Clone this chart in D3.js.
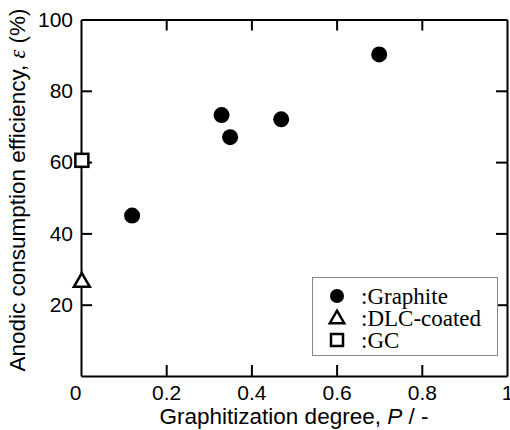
<!DOCTYPE html>
<html>
<head>
<meta charset="utf-8">
<script src="https://cdn.jsdelivr.net/npm/d3@7"></script>
<style>
  body { margin: 0; background: #fff; }
  svg { display: block; }
</style>
</head>
<body>
<svg></svg>
<script>
const width = 510;
const height = 430;
const plotL = 81, plotR = 507, plotT = 19.5, plotB = 376;

// data
const graphiteP = [0.12, 0.33, 0.35, 0.47, 0.70];
const graphiteEff = [45, 73.2, 67, 72, 90.2];
const dlcP = [0.002];
const dlcEff = [26.3];
const gcP = [0.002];
const gcEff = [60.5];
const xTicks = [0, 0.2, 0.4, 0.6, 0.8, 1];
const yTicks = [0, 20, 40, 60, 80, 100];
const legendNames = [":Graphite", ":DLC-coated", ":GC"];

const sans = "'Liberation Sans', Arial, sans-serif";
const serif = "'Liberation Serif', 'Times New Roman', serif";

let svg = d3.select("svg")
    .attr("width", width)
    .attr("height", height);

let scX = d3.scaleLinear().domain([0, 1]).range([plotL, plotR]);
let scY = d3.scaleLinear().domain([0, 100]).range([plotB, plotT]);

// axes, ticks pointing inward on all four sides
const tickLen = 11;
function fmtX(d) { return d === 0 || d === 1 ? String(d) : d3.format(".1f")(d); }
function fmtY(d) { return d === 0 ? "" : String(d); }

let axBottom = d3.axisBottom(scX).tickValues(xTicks).tickSizeInner(-tickLen).tickSizeOuter(0).tickPadding(9).tickFormat(fmtX);
let axTop = d3.axisTop(scX).tickValues(xTicks).tickSizeInner(-tickLen).tickSizeOuter(0).tickFormat("");
let axLeft = d3.axisLeft(scY).tickValues(yTicks).tickSizeInner(-tickLen).tickSizeOuter(0).tickPadding(8).tickFormat(fmtY);
let axRight = d3.axisRight(scY).tickValues(yTicks).tickSizeInner(-tickLen).tickSizeOuter(0).tickFormat("");

function styleAxis(g) {
  g.selectAll("path, line").attr("stroke", "#000").attr("stroke-width", 2);
  g.selectAll("text").attr("fill", "#000").style("font-family", sans).style("font-size", "21px");
}

let gx = svg.append("g").attr("transform", `translate(0,${plotB})`).call(axBottom).call(styleAxis);
svg.append("g").attr("transform", `translate(0,${plotT})`).call(axTop).call(styleAxis);
svg.append("g").attr("transform", `translate(${plotL},0)`).call(axLeft).call(styleAxis);
svg.append("g").attr("transform", `translate(${plotR},0)`).call(axRight).call(styleAxis);

// the "0" under the corner sits a little to the left
gx.selectAll(".tick").filter(d => d === 0).select("text").attr("dx", -6);

// drop tick lines at the corners so the frame stays clean
svg.selectAll(".tick").filter(d => d === 0 || d === 1 || d === 100).select("line").remove();

// axis titles
let xt = svg.append("text")
    .attr("x", (plotL + plotR) / 2)
    .attr("y", 424)
    .attr("text-anchor", "middle")
    .style("font-family", sans)
    .style("font-size", "22.5px");
xt.append("tspan").text("Graphitization degree,  ");
xt.append("tspan").style("font-style", "italic").text("P");
xt.append("tspan").text(" / -");

let yt = svg.append("text")
    .attr("transform", `translate(25,${190}) rotate(-90)`)
    .attr("text-anchor", "middle")
    .style("font-family", sans)
    .style("font-size", "22.5px");
yt.append("tspan").text("Anodic consumption efficiency,  ");
yt.append("tspan").style("font-family", serif).style("font-style", "italic").text("ε");
yt.append("tspan").text(" (%)");

// markers
const triangle = d3.symbol().type(d3.symbolTriangle);

function drawCircles(xs, ys) {
  svg.append("g").selectAll("circle")
    .data(xs.map((x, i) => [x, ys[i]]))
    .enter()
    .append("circle")
    .attr("cx", d => scX(d[0]))
    .attr("cy", d => scY(d[1]))
    .attr("r", 8)
    .attr("fill", "#000");
}

function drawTriangles(xs, ys) {
  svg.append("g").selectAll("path")
    .data(xs.map((x, i) => [x, ys[i]]))
    .enter()
    .append("path")
    .attr("d", triangle.size(110)())
    .attr("transform", d => `translate(${scX(d[0])},${scY(d[1])})`)
    .attr("fill", "#fff")
    .attr("stroke", "#000")
    .attr("stroke-width", 2.5);
}

function drawSquares(xs, ys) {
  const s = 13;
  svg.append("g").selectAll("rect")
    .data(xs.map((x, i) => [x, ys[i]]))
    .enter()
    .append("rect")
    .attr("x", d => scX(d[0]) - s / 2)
    .attr("y", d => scY(d[1]) - s / 2)
    .attr("width", s)
    .attr("height", s)
    .attr("fill", "#fff")
    .attr("stroke", "#000")
    .attr("stroke-width", 2.5);
}

drawCircles(graphiteP, graphiteEff);
drawTriangles(dlcP, dlcEff);
drawSquares(gcP, gcEff);

// legend
let lg = svg.append("g");
lg.append("rect")
  .attr("x", 312.5).attr("y", 277.5)
  .attr("width", 185).attr("height", 78)
  .attr("fill", "#fff")
  .attr("stroke", "#888")
  .attr("stroke-width", 1);

const rowY = [296, 318, 340];
const mx = 337;
lg.append("circle").attr("cx", mx).attr("cy", rowY[0]).attr("r", 7).attr("fill", "#000");
lg.append("path").attr("d", triangle.size(90)())
  .attr("transform", `translate(${mx},${rowY[1] + 1})`)
  .attr("fill", "#fff").attr("stroke", "#000").attr("stroke-width", 2.5);
lg.append("rect").attr("x", mx - 6).attr("y", rowY[2] - 6).attr("width", 12).attr("height", 12)
  .attr("fill", "#fff").attr("stroke", "#000").attr("stroke-width", 2.5);

lg.selectAll("text.lab")
  .data(legendNames)
  .enter()
  .append("text")
  .attr("class", "lab")
  .attr("x", 361)
  .attr("y", (d, i) => rowY[i] + 7.5)
  .style("font-family", serif)
  .style("font-size", "23px")
  .text(d => d);
</script>
</body>
</html>
